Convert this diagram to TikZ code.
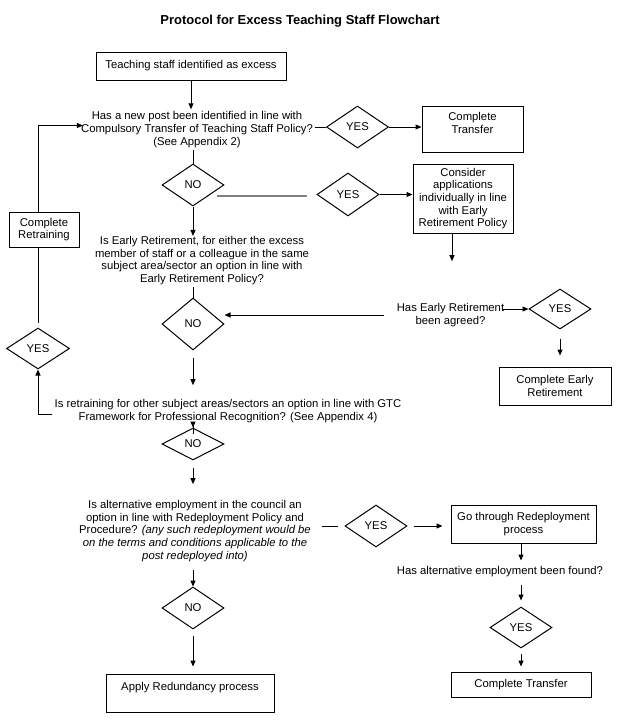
\documentclass[tikz,border=0pt]{standalone}
\usepackage{fontspec}
\setmainfont{Liberation Sans}
\usepackage{tikz}
\usetikzlibrary{shapes.geometric,arrows.meta}
\tikzstyle{process} = [rectangle, draw=black, line width=1pt, inner sep=2pt, align=center, font=\fontsize{11.3}{12.7}\selectfont]
\tikzstyle{decision} = [diamond, draw=black, line width=1pt, inner sep=0pt, minimum width=62pt, minimum height=42pt, font=\fontsize{11.3}{12.7}\selectfont]
\tikzstyle{question} = [inner sep=2pt, align=center, font=\fontsize{11.3}{12.7}\selectfont]
\tikzstyle{link} = [line width=1pt]
\tikzstyle{arrow} = [line width=1pt,-{Triangle[length=6pt,width=5pt]}]
\tikzstyle{greyline} = [line width=2pt, draw=gray]

\begin{document}
\begin{tikzpicture}[x=1pt,y=-1pt]
    \useasboundingbox (0,0) rectangle (621,721);
    \node (title) at (300,21) [font=\fontsize{13}{15}\selectfont\bfseries] {Protocol for Excess Teaching Staff Flowchart};

    % left column
    \node (staff) [process, minimum width=190pt, minimum height=28pt] at (191,66) {Teaching staff identified as excess};
    \node (q1) [question] at (197,129.5) {Has a new post been identified in line with\\Compulsory Transfer of Teaching Staff Policy?\\(See Appendix 2)};
    \node (no1) [decision] at (193,185) {NO};
    \node (q2) [question] at (202,260.5) {Is Early Retirement, for either the excess\\member of staff or a colleague in the same\\subject area/sector an option in line with\\Early Retirement Policy?};
    \node (no2) [decision, minimum height=52pt] at (193,324) {NO};
    \node (q3) [question] at (228,411) {Is retraining for other subject areas/sectors an option in line with GTC\\Framework for Professional Recognition? (See Appendix 4)};
    \node (no3) [decision, minimum height=32pt] at (193,444) {NO};
    \node (q4) [question] at (195,531) {Is alternative employment in the council an\\option in line with Redeployment Policy and\\Procedure? \textit{(any such redeployment would be}\\\textit{on the terms and conditions applicable to the}\\\textit{post redeployed into)}};
    \node (no4) [decision] at (193,608) {NO};
    \node (redund) [process, minimum width=168pt, minimum height=38pt] at (190,693) {Apply Redundancy process\\\mbox{}};

    % retraining loop
    \node (retrain) [process, minimum width=70pt, minimum height=35pt] at (44,229.5) {Complete\\Retraining};
    \node (yes3) [decision, minimum width=63pt, minimum height=41pt] at (38,348.5) {YES};

    % right side
    \node (yes1) [decision] at (357.5,127) {YES};
    \node (ctrans1) [process, minimum width=101pt, minimum height=46pt] at (472.5,129) {Complete\\Transfer\\\mbox{}};
    \node (yes2) [decision, minimum height=43pt] at (348,194.5) {YES};
    \node (consider) [process, minimum width=100pt, minimum height=69pt] at (463,198.5) {Consider\\applications\\individually in line\\with Early\\Retirement Policy};
    \node (agreed) [question] at (450.5,315) {Has Early Retirement\\been agreed?};
    \node (yes4) [decision, minimum height=40pt] at (560,309) {YES};
    \node (cearly) [process, minimum width=112pt, minimum height=38pt] at (555,386) {Complete Early\\Retirement};
    \node (yes5) [decision] at (376,526) {YES};
    \node (goredep) [process, minimum width=145pt, minimum height=38pt] at (523.5,524) {Go through Redeployment\\process};
    \node (found) [question] at (500,572) {Has alternative employment been found?};
    \node (yes6) [decision, minimum height=41pt] at (521,627.5) {YES};
    \node (ctrans2) [process, minimum width=140pt, minimum height=25pt] at (521,684.5) {Complete Transfer};

    \draw [arrow] (staff.south) -- (staff.south |- q1.north);
    \draw [link] (q1.east |- yes1.west) -- (yes1.west);
    \draw [arrow] (yes1.east) -- (ctrans1.west |- yes1.east);
    \draw [link] (no1.north |- q1.south) -- (no1.north);
    \draw [arrow, shorten >=-2pt] (no1.south) -- (no1.south |- q2.north);
    \draw [greyline] ([shift={(-8,11)}]no1.east) -- ([shift={(-10,1.5)}]yes2.west);
    \draw [arrow] (yes2.east) -- (consider.west |- yes2.east);
    \draw [arrow, shorten >=40pt] ([xshift=-11pt]consider.south) -- ([xshift=-11pt]consider.south |- agreed.north);
    \draw [arrow, shorten <=-4pt] (agreed.east |- yes4.west) -- (yes4.west);
    \draw [arrow, shorten <=9pt, shorten >=11pt] (yes4.south) -- (yes4.south |- cearly.north);
    \draw [arrow, shorten <=11pt] (agreed.west) -- (agreed.west -| no2.east);
    \draw [link] (no2.north |- q2.south) -- (no2.north);
    \draw [arrow, shorten <=7pt, shorten >=12pt] (no2.south) -- (no2.south |- q3.north);
    \draw [arrow, shorten <=-9pt] (no3.north |- q3.south) -- (no3.north);
    \draw [arrow, shorten <=7pt, shorten >=14pt] (no3.south) -- (no3.south |- q4.north);
    \draw [arrow, shorten <=6pt] (no4.north |- q4.south) -- (no4.north);
    \draw [arrow, shorten <=6pt, shorten >=7pt] (no4.south) -- (no4.south |- redund.north);
    \draw [link, shorten <=9pt, shorten >=7pt] (q4.east |- yes5.west) -- (yes5.west);
    \draw [arrow, shorten <=6pt, shorten >=8pt] (yes5.east) -- (goredep.west |- yes5.east);
    \draw [arrow, shorten >=4pt] (yes6.north |- goredep.south) -- (yes6.north |- found.north);
    \draw [arrow, shorten <=6pt, shorten >=6pt] (yes6.north |- found.south) -- (yes6.north);
    \draw [arrow, shorten <=5pt, shorten >=5pt] (yes6.south) -- (yes6.south |- ctrans2.north);

    % loop back to the first question
    \draw [arrow] ([yshift=-3pt]q3.west) -| (yes3.south);
    \draw [link] (yes3.north |- retrain.south) -- ([yshift=5pt]yes3.north);
    \draw [arrow, shorten >=-4pt] (yes3.north |- retrain.north) |- ([yshift=4pt]q1.west);
\end{tikzpicture}
\end{document}
